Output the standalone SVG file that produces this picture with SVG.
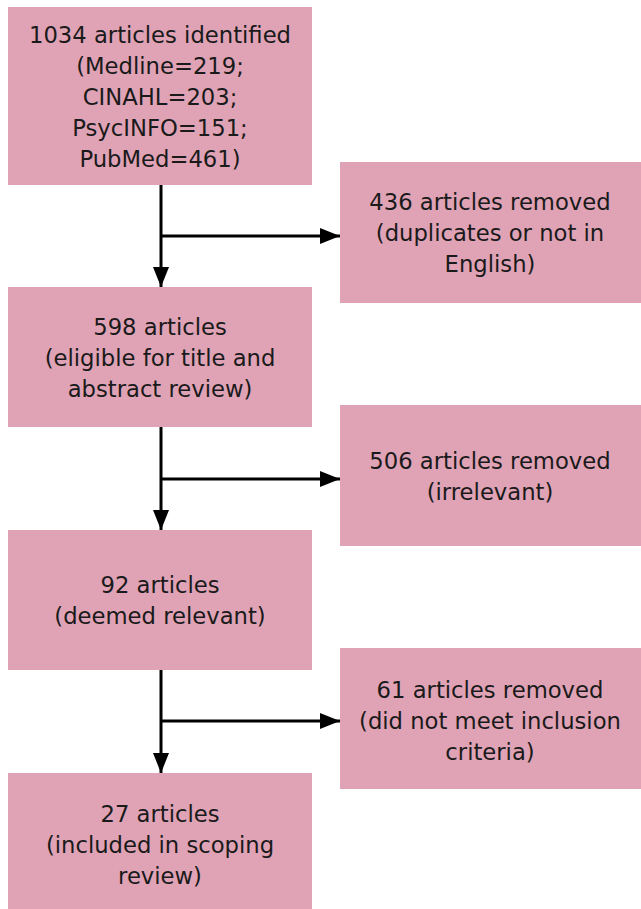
<svg xmlns="http://www.w3.org/2000/svg" width="641" height="909" viewBox="0 0 641 909">
<defs>
<style>
.box{fill:#e0a3b6;}
.t{font-family:"DejaVu Sans","Liberation Sans",Arial,sans-serif;font-size:22.7px;fill:#1a1a1a;text-anchor:middle;}
.c{stroke:#000;stroke-width:3;fill:none;}
</style>
<marker id="ah" viewBox="0 0 20 16" refX="20" refY="8" markerWidth="20" markerHeight="16" markerUnits="userSpaceOnUse" orient="auto">
<path d="M0,0 L20,8 L0,16 Z" fill="#000"/>
</marker>
</defs>
<rect width="641" height="909" fill="#fff"/>
<g id="n1"><rect class="box" x="8" y="7" width="304" height="178"/>
<text class="t" x="160" y="43">1034 articles identified</text>
<text class="t" x="160" y="74">(Medline=219;</text>
<text class="t" x="160" y="105">CINAHL=203;</text>
<text class="t" x="160" y="136">PsycINFO=151;</text>
<text class="t" x="160" y="167">PubMed=461)</text></g>
<g id="r1"><rect class="box" x="340" y="162" width="301" height="141"/>
<text class="t" x="490" y="210">436 articles removed</text>
<text class="t" x="490" y="241">(duplicates or not in</text>
<text class="t" x="490" y="272">English)</text></g>
<g id="n2"><rect class="box" x="8" y="287" width="304" height="140"/>
<text class="t" x="160" y="335">598 articles</text>
<text class="t" x="160" y="366">(eligible for title and</text>
<text class="t" x="160" y="397">abstract review)</text></g>
<g id="r2"><rect class="box" x="340" y="405" width="301" height="141"/>
<text class="t" x="490" y="469">506 articles removed</text>
<text class="t" x="490" y="500">(irrelevant)</text></g>
<g id="n3"><rect class="box" x="8" y="530" width="304" height="140"/>
<text class="t" x="160" y="593">92 articles</text>
<text class="t" x="160" y="624">(deemed relevant)</text></g>
<g id="r3"><rect class="box" x="340" y="648" width="301" height="141"/>
<text class="t" x="490" y="698">61 articles removed</text>
<text class="t" x="490" y="729">(did not meet inclusion</text>
<text class="t" x="490" y="760">criteria)</text></g>
<g id="n4"><rect class="box" x="8" y="773" width="304" height="136"/>
<text class="t" x="160" y="822">27 articles</text>
<text class="t" x="160" y="853">(included in scoping</text>
<text class="t" x="160" y="884">review)</text></g>
<g id="connectors">
<line class="c" x1="161" y1="185" x2="161" y2="287" marker-end="url(#ah)"/>
<line class="c" x1="161" y1="236" x2="340" y2="236" marker-end="url(#ah)"/>
<line class="c" x1="161" y1="427" x2="161" y2="530" marker-end="url(#ah)"/>
<line class="c" x1="161" y1="479" x2="340" y2="479" marker-end="url(#ah)"/>
<line class="c" x1="161" y1="670" x2="161" y2="773" marker-end="url(#ah)"/>
<line class="c" x1="161" y1="721" x2="340" y2="721" marker-end="url(#ah)"/>
</g>
</svg>
